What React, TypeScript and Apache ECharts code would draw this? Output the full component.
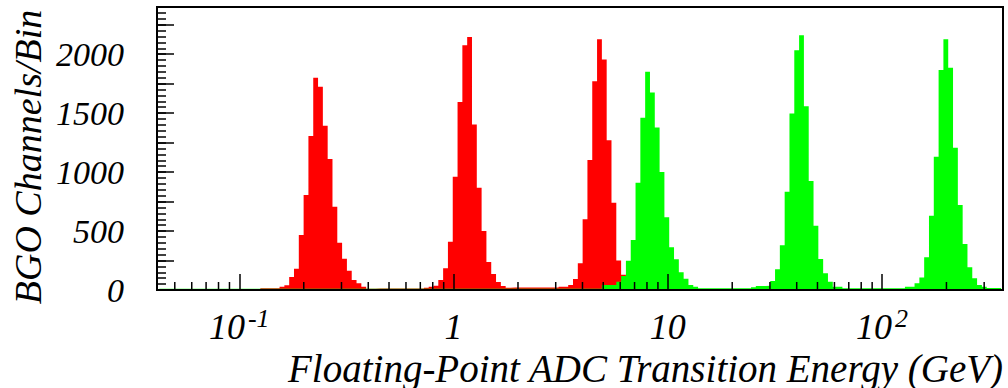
import React, { useEffect, useRef } from "react";
import * as echarts from "echarts";

// ---- axis ranges ----
const X_MIN = 0.0413;
const X_MAX = 367.3;
const Y_MIN = 0;
const Y_MAX = 2400;
const Y_MAJOR = 250;
const Y_MINOR = 50;
const Y_LABEL_STEP = 500;
const X_DECADES = [0.01, 0.1, 1, 10, 100];
const X_MINOR_MULT = [2, 3, 4, 5, 6, 7, 8, 9];

// ---- histogram binning (log-spaced bins) ----
const BIN_LOG_START = -1.3733;
const BIN_LOG_WIDTH = 0.022455;
const N_BINS = 175;

// ---- red histogram (low-range transitions) ----
const RED_PEAK_1 = { start: 25, counts: [28, 40, 110, 180, 466, 805, 1305, 1800, 1723, 1393, 1110, 706, 401, 265, 164, 85, 57, 28, 11, 11] };
const RED_PEAK_2 = { start: 55, counts: [20, 28, 36, 85, 184, 409, 960, 1595, 2075, 2146, 1404, 867, 500, 237, 136, 68, 34, 20] };
const RED_PEAK_3 = { start: 83, counts: [28, 28, 42, 93, 226, 599, 1102, 1771, 2127, 1955, 1271, 740, 250, 130, 60, 30] };
const RED_FLOOR = [
  [0, 20, 4],
  [21, 24, 14],
  [45, 54, 12],
  [73, 82, 22],
  [99, 174, 4],
];

// ---- green histogram (high-range transitions) ----
const GREEN_PEAK_1 = { start: 92, counts: [42, 42, 42, 70, 119, 248, 424, 909, 1460, 1850, 1675, 1379, 1000, 616, 362, 260, 150, 96, 42, 28] };
const GREEN_PEAK_2 = { start: 123, counts: [23, 34, 34, 37, 76, 175, 379, 833, 1497, 2034, 2161, 1559, 924, 545, 263, 141, 70, 28, 28] };
const GREEN_PEAK_3 = { start: 154, counts: [15, 28, 28, 57, 107, 277, 630, 1130, 1865, 2127, 1884, 1206, 720, 390, 192, 99, 42, 28, 17, 17, 17] };
const GREEN_FLOOR = [
  [0, 91, 10],
  [112, 122, 15],
  [142, 153, 15],
];

const X_TITLE = "Floating-Point ADC Transition Energy (GeV)";
const Y_TITLE = "BGO Channels/Bin";

const FONT = "'Liberation Serif', 'Times New Roman', serif";

function binEdge(k: number) {
  return Math.pow(10, BIN_LOG_START + k * BIN_LOG_WIDTH);
}

function buildCounts(floor: number[][], peaks: { start: number; counts: number[] }[]) {
  const c: number[] = new Array(N_BINS).fill(0);
  floor.forEach(([a, b, v]) => {
    for (let k = a; k <= b; k++) c[k] = v;
  });
  peaks.forEach((p) => p.counts.forEach((v, i) => (c[p.start + i] = v)));
  return c;
}

function stepData(counts: number[]) {
  const d = counts.map((c, k) => [binEdge(k), c]);
  d.push([binEdge(N_BINS), counts[N_BINS - 1]]);
  return d;
}

export default function App() {
  const ref = useRef<HTMLDivElement>(null);
  useEffect(() => {
    if (!ref.current) return;
    const chart = echarts.init(ref.current, undefined, { renderer: "svg" });
    const red = buildCounts(RED_FLOOR, [RED_PEAK_1, RED_PEAK_2, RED_PEAK_3]);
    const green = buildCounts(GREEN_FLOOR, [GREEN_PEAK_1, GREEN_PEAK_2, GREEN_PEAK_3]);
    const minorTicks: number[][] = [];
    X_DECADES.forEach((d) =>
      X_MINOR_MULT.forEach((m) => {
        const v = d * m;
        if (v > X_MIN && v < X_MAX) minorTicks.push([v, 0]);
      })
    );
    const labelFmt = (v: number) => {
      const e = Math.round(Math.log10(v));
      if (e === 0) return "{b|1}";
      if (e === 1) return "{b|10}";
      return "{b|10}{s|" + e + "}";
    };
    chart.setOption({
      animation: false,
      backgroundColor: "#fff",
      grid: {
        left: 157,
        right: 5,
        top: 7,
        bottom: 98,
        show: true,
        borderColor: "#000",
        borderWidth: 2,
        backgroundColor: "transparent",
        z: 20,
      },
      xAxis: {
        type: "log",
        logBase: 10,
        min: X_MIN,
        max: X_MAX,
        z: 10,
        axisLine: { show: false },
        splitLine: { show: false },
        axisTick: { show: true, inside: true, length: 16, lineStyle: { color: "#000", width: 1.5 } },
        minorTick: { show: false },
        axisLabel: {
          showMinLabel: false,
          showMaxLabel: false,
          margin: 16,
          formatter: labelFmt,
          rich: {
            b: { fontFamily: FONT, fontStyle: "italic", fontSize: 36, color: "#000", lineHeight: 42 },
            s: { fontFamily: FONT, fontStyle: "italic", fontSize: 26, color: "#000", lineHeight: 24, padding: [0, 0, 18, 3] },
          },
        },
      },
      yAxis: [
        {
          type: "value",
          min: Y_MIN,
          max: Y_MAX,
          interval: Y_MAJOR,
          z: 10,
          axisLine: { show: false },
          splitLine: { show: false },
          axisTick: { show: true, inside: true, length: 17, lineStyle: { color: "#000", width: 1.5 } },
          axisLabel: {
            margin: 33,
            fontFamily: FONT,
            fontStyle: "italic",
            fontSize: 34,
            color: "#000",
            formatter: (v: number) => (v % Y_LABEL_STEP === 0 ? String(v) : ""),
          },
        },
        {
          type: "value",
          position: "left",
          offset: 0,
          min: Y_MIN,
          max: Y_MAX,
          interval: Y_MINOR,
          z: 10,
          axisLine: { show: false },
          splitLine: { show: false },
          axisTick: { show: true, inside: true, length: 9, lineStyle: { color: "#000", width: 1.5 } },
          axisLabel: { show: false },
        },
      ],
      series: [
        {
          type: "line",
          name: "red",
          step: "end",
          symbol: "none",
          data: stepData(red),
          lineStyle: { width: 0, color: "#ff0000" },
          areaStyle: { color: "#ff0000", opacity: 1 },
          z: 2,
          silent: true,
        },
        {
          type: "line",
          name: "green",
          step: "end",
          symbol: "none",
          data: stepData(green),
          lineStyle: { width: 0, color: "#00ff00" },
          areaStyle: { color: "#00ff00", opacity: 1 },
          z: 3,
          silent: true,
        },
        {
          type: "custom",
          name: "minorTicks",
          data: minorTicks,
          z: 15,
          silent: true,
          clip: false,
          renderItem: (_p: any, api: any) => {
            const pt = api.coord([api.value(0), 0]);
            return {
              type: "line",
              shape: { x1: pt[0], y1: pt[1], x2: pt[0], y2: pt[1] - 8 },
              style: { stroke: "#000", lineWidth: 1.5 },
            };
          },
        },
      ],
      graphic: [
        {
          type: "text",
          x: 1003,
          y: 368,
          style: {
            text: X_TITLE,
            font: "italic 39px " + FONT,
            fill: "#000",
            align: "right",
            verticalAlign: "middle",
          },
        },
        {
          type: "text",
          x: 28,
          y: 157,
          rotation: Math.PI / 2,
          style: {
            text: Y_TITLE,
            font: "italic 38px " + FONT,
            fill: "#000",
            align: "center",
            verticalAlign: "middle",
          },
        },
      ],
    });
    return () => chart.dispose();
  }, []);
  return (
    <div
      ref={ref}
      style={{ position: "absolute", left: 0, top: 0, width: 1008, height: 388 }}
    />
  );
}
